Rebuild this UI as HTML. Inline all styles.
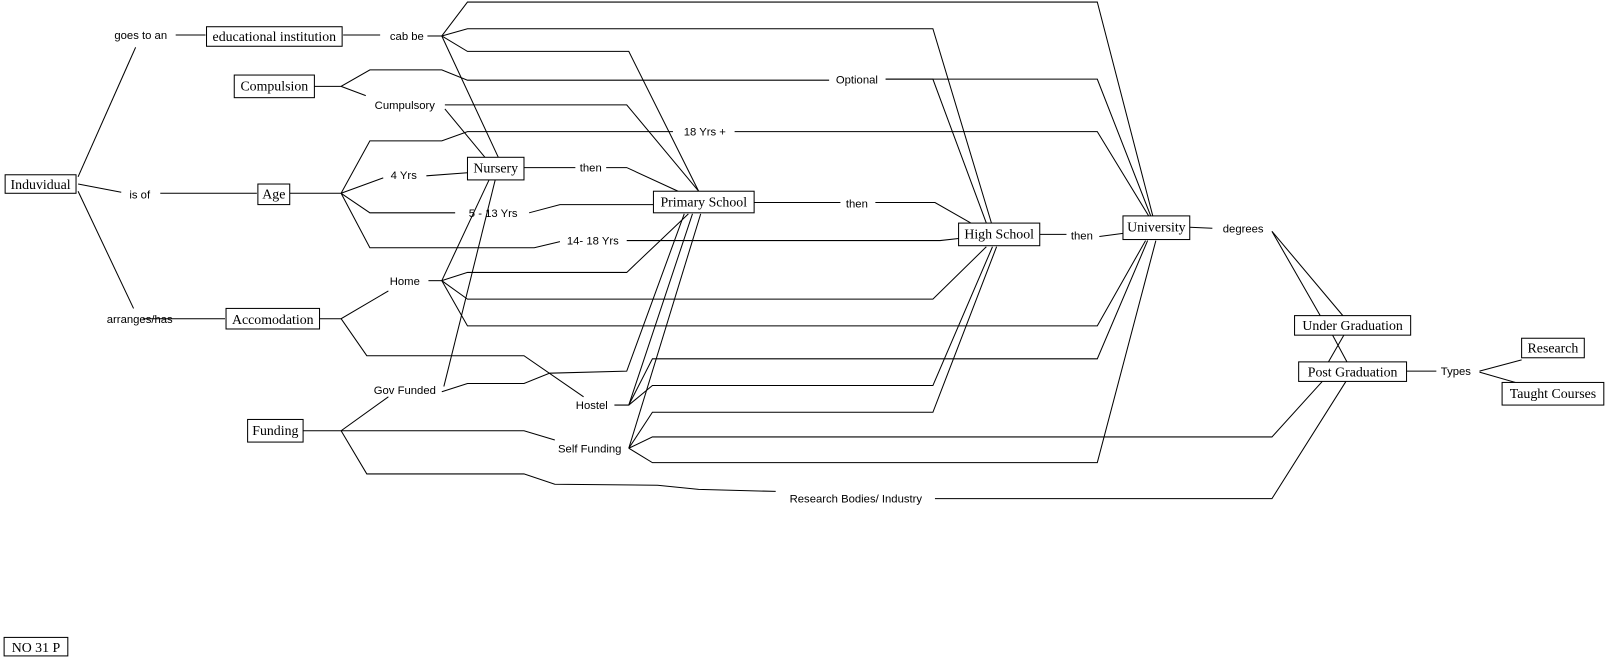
<!DOCTYPE html>
<html><head><meta charset="utf-8"><style>
html,body{margin:0;padding:0;background:#fff;}
svg{display:block;}
.b{font-family:"Liberation Serif",serif;font-size:13.5px;fill:#000;}
.l{font-family:"Liberation Sans",sans-serif;font-size:11px;fill:#000;}
rect{fill:#fff;stroke:#000;stroke-width:1;}
path{fill:none;stroke:#000;stroke-width:1;}
</style></head><body>
<svg width="1611" height="659" viewBox="0 0 1568 641" preserveAspectRatio="none" xmlns="http://www.w3.org/2000/svg">
<g>
<!-- Induvidual links -->
<path d="M76,172 L132,46"/>
<path d="M76,179 L118,187"/>
<path d="M156,188 L250,188"/>
<path d="M76,186 L130,300"/>
<path d="M171,34 L200,34"/>
<path d="M334,34 L370,34"/>
<path d="M416,35 L430,35"/>
<path d="M139,310 L219,310"/>
<!-- cab be -->
<path d="M430,35 L455,2 L1068,2 L1122,210"/>
<path d="M430,35 L455,28 L908,28 L965,217"/>
<path d="M430,35 L455,50 L612,50 L680,186"/>
<path d="M430,35 L485,153"/>
<!-- Compulsion -->
<path d="M306,84 L332,84 L360,68 L430,68 L455,78 L807,78"/>
<path d="M332,84 L356,93"/>
<path d="M862,77 L908,77 L960,217"/>
<path d="M862,77 L1068,77 L1120,210"/>
<path d="M433,102 L610,102 L680,186"/>
<path d="M433,106 L472,153"/>
<!-- Age -->
<path d="M282,188 L332,188 L360,137 L430,137 L455,128 L655,128"/>
<path d="M715,128 L1068,128 L1118,210"/>
<path d="M332,188 L373,173"/>
<path d="M415,171 L455,168"/>
<path d="M332,188 L360,207 L443,207"/>
<path d="M515,207 L545,199 L636,199"/>
<path d="M332,188 L360,241 L520,241 L545,235"/>
<path d="M610,234 L915,234 L933,232"/>
<!-- then chain -->
<path d="M510,163 L560,163"/>
<path d="M590,163 L610,163 L660,186"/>
<path d="M734,197 L818,197"/>
<path d="M852,197 L910,197 L945,217"/>
<path d="M1012,228 L1038,228"/>
<path d="M1070,230 L1093,227"/>
<path d="M1158,221 L1180,222"/>
<!-- Accomodation -->
<path d="M311,310 L332,310 L378,283"/>
<path d="M332,310 L357,346 L510,346 L568,386"/>
<path d="M417,273 L430,273"/>
<path d="M430,273 L455,265 L610,265 L670,208"/>
<path d="M430,273 L455,291 L908,291 L960,240"/>
<path d="M430,273 L455,317 L1068,317 L1115,234"/>
<path d="M430,273 L476,175"/>
<!-- Hostel -->
<path d="M598,394 L612,394 L674,208"/>
<path d="M612,394 L635,375 L908,375 L966,240"/>
<path d="M612,394 L635,349 L1068,349 L1117,234"/>
<!-- Gov funded -->
<path d="M430,381 L455,373 L510,373 L535,363 L610,361 L666,208"/>
<path d="M432,376 L482,175"/>
<!-- Funding -->
<path d="M295,419 L332,419 L378,386"/>
<path d="M332,419 L510,419 L540,428"/>
<path d="M332,419 L357,461 L510,461 L540,471 L640,472 L680,476 L755,478"/>
<path d="M910,485 L1238,485 L1310,371"/>
<!-- Self funding -->
<path d="M612,436 L682,208"/>
<path d="M612,436 L635,401 L908,401 L970,240"/>
<path d="M612,436 L635,425 L1238,425 L1287,371"/>
<path d="M612,436 L635,450 L1068,450 L1125,234"/>
<!-- degrees -->
<path d="M1238,225 L1285,307"/>
<path d="M1238,225 L1307,307"/>
<path d="M1297,326 L1311,352"/>
<path d="M1308,326 L1293,352"/>
<path d="M1369,361 L1398,361"/>
<path d="M1440,361 L1481,350"/>
<path d="M1440,362 L1475,372"/>
</g>
<!-- boxes -->
<rect x="5" y="170" width="69" height="18"/><text class="b" x="39.5" y="184" text-anchor="middle">Induvidual</text>
<rect x="201" y="26" width="132" height="19"/><text class="b" x="267" y="40" text-anchor="middle">educational institution</text>
<rect x="228" y="73" width="78" height="22"/><text class="b" x="267" y="88" text-anchor="middle">Compulsion</text>
<rect x="251" y="179" width="31" height="20"/><text class="b" x="266.5" y="193" text-anchor="middle">Age</text>
<rect x="455" y="153" width="55" height="22"/><text class="b" x="482.5" y="168" text-anchor="middle">Nursery</text>
<rect x="636" y="186" width="98" height="21"/><text class="b" x="685" y="201" text-anchor="middle">Primary School</text>
<rect x="933" y="217" width="79" height="22"/><text class="b" x="972.5" y="232" text-anchor="middle">High School</text>
<rect x="1093" y="210" width="65" height="23"/><text class="b" x="1125.5" y="225" text-anchor="middle">University</text>
<rect x="220" y="300" width="91" height="20"/><text class="b" x="265.5" y="315" text-anchor="middle">Accomodation</text>
<rect x="241" y="408" width="54" height="22"/><text class="b" x="268" y="423" text-anchor="middle">Funding</text>
<rect x="1260" y="307" width="113" height="19"/><text class="b" x="1316.5" y="321" text-anchor="middle">Under Graduation</text>
<rect x="1264" y="352" width="105" height="19"/><text class="b" x="1316.5" y="366" text-anchor="middle">Post Graduation</text>
<rect x="1481" y="329" width="61" height="19"/><text class="b" x="1511.5" y="343" text-anchor="middle">Research</text>
<rect x="1462" y="372" width="99" height="22"/><text class="b" x="1511.5" y="387" text-anchor="middle">Taught Courses</text>
<rect x="4" y="620" width="62" height="18"/><text class="b" x="35" y="634" text-anchor="middle">NO 31 P</text>
<!-- labels -->
<g class="l" text-anchor="middle">
<text x="137" y="38">goes to an</text>
<text x="396" y="39">cab be</text>
<text x="394" y="106">Cumpulsory</text>
<text x="136" y="193">is of</text>
<text x="393" y="174">4 Yrs</text>
<text x="480" y="211">5 - 13 Yrs</text>
<text x="577" y="238">14- 18 Yrs</text>
<text x="686" y="132">18 Yrs +</text>
<text x="834" y="81">Optional</text>
<text x="575" y="167">then</text>
<text x="834" y="202">then</text>
<text x="1053" y="233">then</text>
<text x="1210" y="226">degrees</text>
<text x="394" y="277">Home</text>
<text x="136" y="314">arranges/has</text>
<text x="394" y="383">Gov Funded</text>
<text x="576" y="398">Hostel</text>
<text x="574" y="440">Self Funding</text>
<text x="833" y="489">Research Bodies/ Industry</text>
<text x="1417" y="365">Types</text>
</g>
</svg>
</body></html>
